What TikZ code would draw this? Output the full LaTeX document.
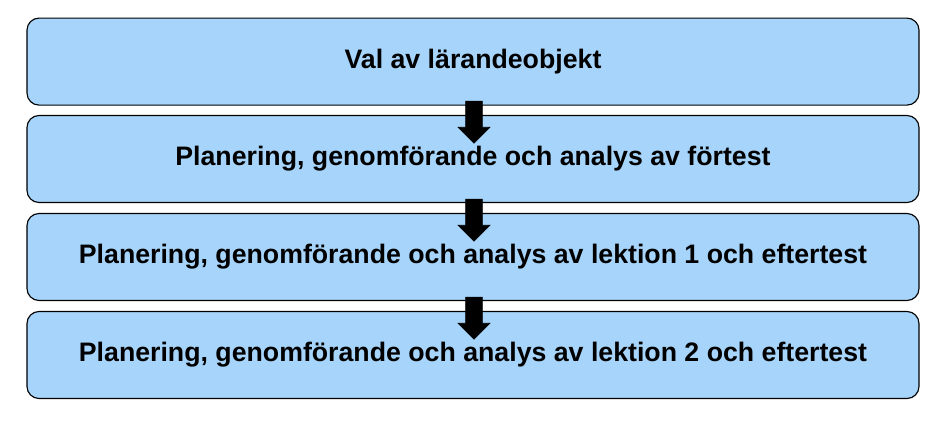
\documentclass[tikz,border=0pt]{standalone}
\usepackage{fontspec}
\setmainfont{Liberation Sans}
\usetikzlibrary{shapes,shapes.arrows}
\definecolor{stepfill}{rgb}{0.65,0.83,0.98}
\tikzstyle{stepbox}=[rectangle, draw, thick, rounded corners=0.3cm, fill=stepfill, minimum height=2.175cm, minimum width=22.3cm, font=\bfseries\fontsize{19}{22}\selectfont]
\tikzstyle{steparrow}=[single arrow, draw, fill=black, rotate=-90, minimum height=1.05cm, inner xsep=0pt, inner ysep=0.2cm, single arrow head extend=0.19cm]
\newcommand{\stepbox}[3]{
	\node[stepbox] (#1) at (#2) {#3};}

\begin{document}
\begin{tikzpicture}
\useasboundingbox (0,0) rectangle (23.575,-10.625);

\stepbox{s1}{11.825,-1.54}{Val av lärandeobjekt}
\stepbox{s2}{11.825,-3.975}{Planering, genomförande och analys av förtest}
\stepbox{s3}{11.825,-6.425}{Planering, genomförande och analys av lektion 1 och eftertest}
\stepbox{s4}{11.825,-8.875}{Planering, genomförande och analys av lektion 2 och eftertest}

\node[steparrow] (a1) at (11.85,-2.95) {};
\node[steparrow] (a2) at (11.85,-5.4) {};
\node[steparrow] (a3) at (11.85,-7.85) {};
\end{tikzpicture}
\end{document}
